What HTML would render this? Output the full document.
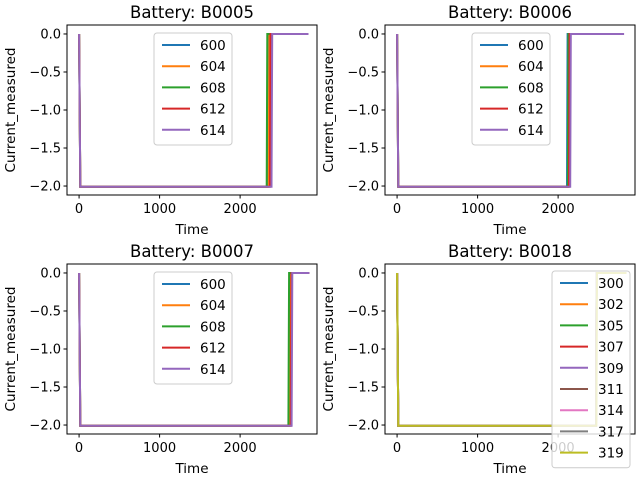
<!DOCTYPE html>
<html><head><meta charset="utf-8">
<style>
body{margin:0;background:#fff;}
svg{display:block;font-family:"DejaVu Sans","Liberation Sans",sans-serif;}
</style></head>
<body>
<svg id="fig" width="640" height="480"></svg>
<script>
// data
const colors = ['#1f77b4','#ff7f0e','#2ca02c','#d62728','#9467bd','#8c564b','#e377c2','#7f7f7f','#bcbd22'];
const b5Labels = ['600','604','608','612','614'];
const b5DropEnd = [2345,2355,2330,2370,2390];
const b5Total = [2850,2850,2850,2850,2850];
const b6Labels = ['600','604','608','612','614'];
const b6DropEnd = [2110,2125,2120,2135,2150];
const b6Total = [2810,2810,2810,2810,2820];
const b7Labels = ['600','604','608','612','614'];
const b7DropEnd = [2610,2620,2600,2630,2640];
const b7Total = [2860,2860,2860,2860,2860];
const b18Labels = ['300','302','305','307','309','311','314','317','319'];
const b18DropEnd = [2470,2470,2470,2470,2470,2470,2470,2470,2475];
const b18Total = [2850,2850,2850,2850,2850,2850,2850,2850,2850];
const lowCurrent = -2.01;
const xTicks = [0,1000,2000];
const yTicks = [0.0,-0.5,-1.0,-1.5,-2.0];
const yTickLabels = ['0.0','\u22120.5','\u22121.0','\u22121.5','\u22122.0'];

const NS='http://www.w3.org/2000/svg';
const fig=document.getElementById('fig');
function mk(tag,attrs,parent){const e=document.createElementNS(NS,tag);for(const k in attrs)e.setAttribute(k,attrs[k]);(parent||fig).appendChild(e);return e;}

const panels=[
 {name:'b0005',title:'Battery: B0005',x:67,y:25,labels:b5Labels,ends:b5DropEnd,tot:b5Total,leg:{x:154,y:33}},
 {name:'b0006',title:'Battery: B0006',x:385,y:25,labels:b6Labels,ends:b6DropEnd,tot:b6Total,leg:{x:472,y:33}},
 {name:'b0007',title:'Battery: B0007',x:67,y:264,labels:b7Labels,ends:b7DropEnd,tot:b7Total,leg:{x:154,y:272}},
 {name:'b0018',title:'Battery: B0018',x:385,y:264,labels:b18Labels,ends:b18DropEnd,tot:b18Total,leg:{x:552,y:271}}
];
const W=250,H=170;
panels.forEach(p=>{
  const g=mk('g',{});
  
  
  const sx=v=>p.x+(v+150)/3105*W;
  const sy=v=>p.y+(0.118-v)/2.236*H;
  p.labels.forEach((lab,i)=>{
    const pts=[[0,0],[15,lowCurrent],[p.ends[i],lowCurrent],[p.ends[i]+8,0],[p.tot[i],0]];
    const pl=mk('polyline',{points:pts.map(q=>sx(q[0]).toFixed(1)+','+sy(q[1]).toFixed(1)).join(' '),fill:'none',stroke:colors[i],'stroke-width':2},g);
    
    
  });
  const fr=mk('rect',{x:p.x,y:p.y,width:W,height:H,fill:'none',stroke:'#000','stroke-width':1},g);
  
  
  xTicks.forEach(t=>{
    const X=sx(t);
    mk('line',{x1:X,x2:X,y1:p.y+H,y2:p.y+H+3.5,stroke:'#000'},g);
    const tx=mk('text',{x:X,y:p.y+H+18,'font-size':13,'text-anchor':'middle'},g);
    tx.textContent=t;
    
    
  });
  yTicks.forEach((t,i)=>{
    const Y=sy(t);
    mk('line',{x1:p.x,x2:p.x-3.5,y1:Y,y2:Y,stroke:'#000'},g);
    const tx=mk('text',{x:p.x-6,y:Y+4.5,'font-size':13,'text-anchor':'end'},g);
    tx.textContent=yTickLabels[i];
    
    
  });
  const tt=mk('text',{x:p.x+W/2,y:p.y-7,'font-size':16.5,'text-anchor':'middle'},g);
  tt.textContent=p.title;
  
  
  const xl=mk('text',{x:p.x+W/2,y:p.y+H+39,'font-size':13.5,'text-anchor':'middle'},g);
  xl.textContent='Time';
  
  
  const yx=p.x-52,yy=p.y+H/2;
  const yl=mk('text',{x:yx,y:yy,'font-size':13.5,'text-anchor':'middle',transform:'rotate(-90 '+yx+' '+yy+')'},g);
  yl.textContent='Current_measured';
  
  
  const lg=mk('g',{},g);
  
  
  const n=p.labels.length;
  mk('rect',{x:p.leg.x,y:p.leg.y,width:78,height:n*21.2+6,rx:3,fill:'#fff','fill-opacity':0.8,stroke:'#ccc'},lg);
  p.labels.forEach((lab,i)=>{
    const Y=p.leg.y+12+i*21.2;
    mk('line',{x1:p.leg.x+8,x2:p.leg.x+36,y1:Y,y2:Y,stroke:colors[i],'stroke-width':2},lg);
    const t=mk('text',{x:p.leg.x+46,y:Y+5,'font-size':13.5},lg);
    t.textContent=lab;
    
    
  });
});
</script>
</body></html>
